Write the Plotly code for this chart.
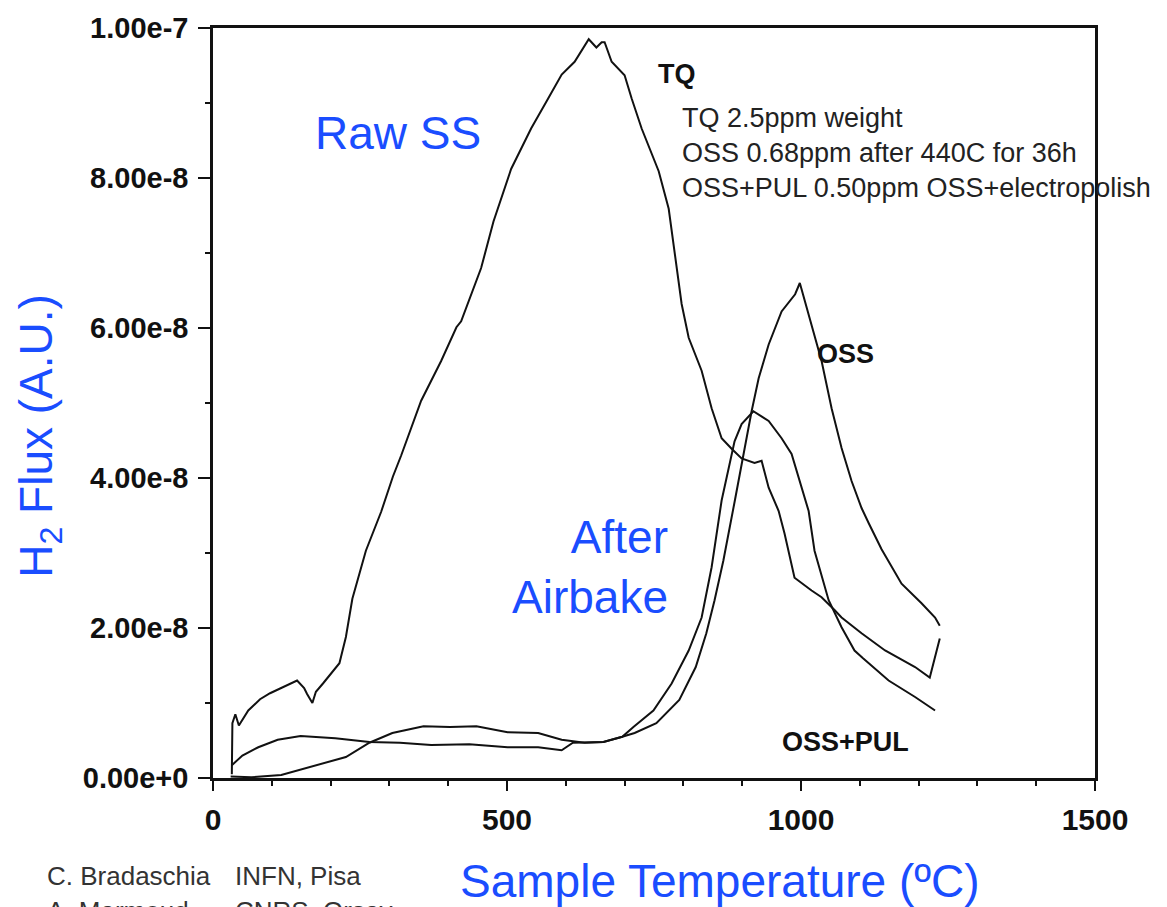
import numpy as np
import plotly.graph_objects as go

# ---- data (temperature in C, flux in units of 1e-8 A.U.) ----
tq_x = [32, 33, 38, 44, 60, 80, 97, 120, 143, 155, 160, 169, 175, 187, 200, 215, 226, 237,
        260, 286, 306, 320, 354, 388, 414, 422, 456, 477, 507, 541, 570, 593, 615, 639, 652,
        661, 666, 678, 700, 712, 729, 758, 775, 785, 797, 809, 831, 848, 865, 882, 899, 921,
        933, 945, 962, 972, 989, 1018, 1035, 1057, 1069, 1103, 1143, 1194, 1219, 1236]
tq_y = [0.05, 0.73, 0.85, 0.70, 0.90, 1.05, 1.13, 1.22, 1.30, 1.20, 1.12, 1.00, 1.15, 1.26,
        1.38, 1.53, 1.88, 2.39, 3.03, 3.55, 4.02, 4.30, 5.03, 5.56, 6.01, 6.09, 6.80, 7.42,
        8.12, 8.66, 9.06, 9.38, 9.55, 9.85, 9.74, 9.81, 9.81, 9.55, 9.37, 9.06, 8.66, 8.09,
        7.59, 6.98, 6.32, 5.87, 5.43, 4.93, 4.53, 4.39, 4.26, 4.20, 4.23, 3.87, 3.56, 3.26,
        2.67, 2.50, 2.41, 2.24, 2.14, 1.93, 1.70, 1.48, 1.34, 1.86]

oss_x = [30, 65, 116, 149, 187, 226, 266, 305, 358, 403, 448, 501, 553, 593, 632, 664, 696,
         717, 754, 793, 821, 839, 853, 868, 888, 904, 916, 928, 945, 967, 980, 990, 998,
         1013, 1035, 1052, 1069, 1086, 1103, 1115, 1137, 1171, 1205, 1228, 1236]
oss_y = [0.02, 0.01, 0.04, 0.11, 0.20, 0.28, 0.47, 0.60, 0.69, 0.68, 0.69, 0.61, 0.60, 0.51,
         0.47, 0.48, 0.55, 0.60, 0.73, 1.04, 1.48, 1.93, 2.37, 2.90, 3.72, 4.40, 4.89, 5.33,
         5.78, 6.22, 6.35, 6.45, 6.60, 6.18, 5.56, 4.93, 4.40, 3.96, 3.60, 3.40, 3.05, 2.59,
         2.33, 2.14, 2.03]

pul_x = [32, 50, 77, 110, 149, 180, 208, 266, 318, 371, 436, 501, 553, 593, 612, 664, 696,
         715, 749, 780, 809, 831, 848, 865, 877, 887, 899, 919, 945, 967, 984, 1001, 1013,
         1023, 1047, 1069, 1091, 1105, 1149, 1194, 1228]
pul_y = [0.17, 0.30, 0.41, 0.51, 0.56, 0.54, 0.53, 0.48, 0.47, 0.44, 0.45, 0.41, 0.41, 0.37,
         0.47, 0.48, 0.55, 0.68, 0.90, 1.26, 1.70, 2.14, 2.81, 3.70, 4.14, 4.49, 4.72, 4.89,
         4.76, 4.53, 4.32, 3.87, 3.56, 3.03, 2.37, 2.01, 1.70, 1.60, 1.30, 1.08, 0.90]

y_unit = 1e-8
x_tick_vals = [0, 500, 1000, 1500]
x_tick_text = ["0", "500", "1000", "1500"]
y_tick_vals = [0, 2e-8, 4e-8, 6e-8, 8e-8, 1e-7]
y_tick_text = ["0.00e+0", "2.00e-8", "4.00e-8", "6.00e-8", "8.00e-8", "1.00e-7"]

legend_lines = ["TQ 2.5ppm weight", "OSS 0.68ppm after 440C for 36h",
                "OSS+PUL 0.50ppm OSS+electropolish"]

BLUE = "#1a4dff"
INK = "#111111"
FONT = "Liberation Sans, Arial, Helvetica, sans-serif"

fig = go.Figure()
for name, xs, ys in [("TQ", tq_x, tq_y), ("OSS", oss_x, oss_y), ("OSS+PUL", pul_x, pul_y)]:
    fig.add_trace(go.Scatter(x=xs, y=np.array(ys) * y_unit, mode="lines", name=name,
                             line=dict(color=INK, width=2), showlegend=False))

axis_common = dict(showline=True, linewidth=2.5, linecolor=INK, mirror=True,
                   ticks="outside", tickcolor=INK, tickwidth=2, showgrid=False, zeroline=False)

fig.update_xaxes(range=[0, 1500], tickvals=x_tick_vals, ticktext=x_tick_text, ticklen=10,
                 tickfont=dict(family=FONT, size=30, color=INK, weight="bold"),
                 minor=dict(dtick=100, ticklen=5, tickwidth=2, ticks="outside", tickcolor=INK, showgrid=False),
                 ticklabelstandoff=3, **axis_common)
fig.update_yaxes(range=[0, 1e-7], tickvals=y_tick_vals, ticktext=y_tick_text, ticklen=12,
                 tickfont=dict(family=FONT, size=29, color=INK, weight="bold"),
                 minor=dict(dtick=1e-8, ticklen=5, tickwidth=2, ticks="outside", tickcolor=INK, showgrid=False),
                 ticklabelstandoff=4, **axis_common)

L, R, T, B = 213, 1095, 24, 778
W, H = 1167, 907


def px(x, y):
    return (x - L) / (R - L), (B - y) / (B - T)


anns = []


def add_text(text, x, y, size, color, xanchor="center", bold=False, align="center", angle=0):
    ax, ay = px(x, y)
    anns.append(dict(text=text, x=ax, y=ay, xref="paper", yref="paper", showarrow=False,
                     xanchor=xanchor, yanchor="middle", align=align, textangle=angle,
                     font=dict(family=FONT, size=size, color=color,
                               weight="bold" if bold else "normal")))


add_text("Raw SS", 398, 130, 46, BLUE)
add_text("After<br>Airbake", 670, 566, 46, BLUE, xanchor="right", align="right")
add_text("TQ", 677, 70, 27, INK, bold=True)
add_text("<br>".join(legend_lines), 680, 150, 27, "#222222", xanchor="left", align="left")
add_text("OSS", 845, 352, 27, INK, bold=True)
add_text("OSS+PUL", 845, 742, 27, INK, bold=True)
add_text("H<sub>2</sub> Flux (A.U.)", 40, 434, 46, BLUE, angle=-90)
add_text("Sample Temperature (ºC)", 720, 882, 46, BLUE)
add_text("C. Bradaschia", 45, 877, 26, "#333333", xanchor="left")
add_text("INFN, Pisa", 233, 877, 26, "#333333", xanchor="left")
add_text("A. Marmoud", 45, 912, 26, "#333333", xanchor="left")
add_text("CNRS, Orsay", 233, 912, 26, "#333333", xanchor="left")

fig.update_layout(width=W, height=H, margin=dict(l=L, r=W - R, t=T, b=H - B),
                  paper_bgcolor="white", plot_bgcolor="white", annotations=anns,
                  font=dict(family=FONT, color=INK))

fig.write_html("out.html", config={"displayModeBar": False},
               post_script="document.body.style.margin='0';document.body.style.padding='0';"
                           "document.body.style.overflow='hidden';")
